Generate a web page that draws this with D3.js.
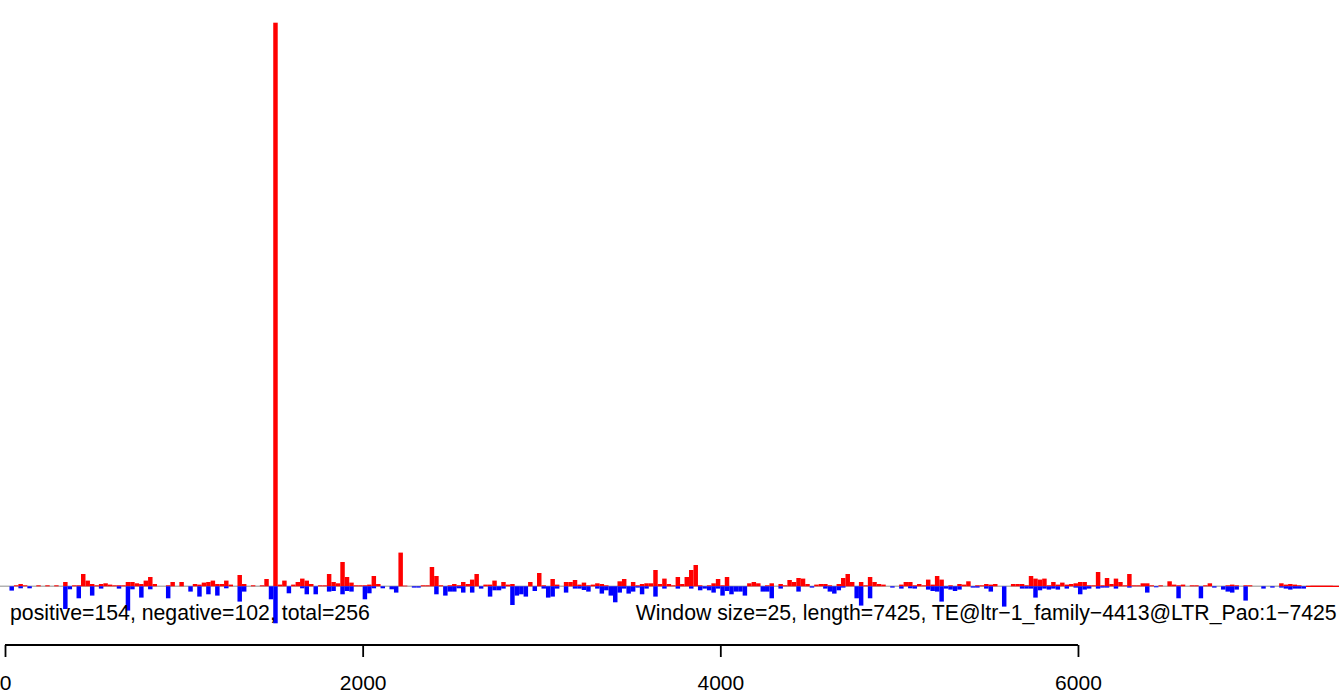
<!DOCTYPE html>
<html>
<head>
<meta charset="utf-8">
<script src="https://cdn.jsdelivr.net/npm/d3@7"></script>
<style>
  html, body { margin: 0; padding: 0; background: #fff; }
  svg { display: block; font-family: 'Liberation Sans', Arial, Helvetica, sans-serif; }
</style>
</head>
<body>
<svg id="chart"></svg>
<script>
// window size in bp and element length
const windowSize = 25;
const lengthBp = 7425;

// positive strand signal per 25bp window
const posValues = [
  0,0,1,2.3,1,0,0,1,0,1,
  0,1,0,4.3,0,1,1,12.3,5.7,2.3,
  1,2.3,3,1.7,1,1,1,4.3,4.3,3,
  2.3,5.7,9.3,2.3,0,0,1,4.3,0,4.3,
  0,0,2.3,1.7,3.7,4.3,5.7,2.3,2.3,5.7,
  1.7,0,11.3,2.3,0,1,0,1,7.3,0,
  563.6,1.7,5.7,0,1.7,4.3,7.7,5.7,2.3,0,
  1,1,12.3,4.3,3,24.3,9.3,3.7,1,1,
  1,1.7,10.3,2.3,0,0,0,0,33.7,0.7,
  0,0,0,1,1,19.3,10.3,1,0,1,
  2.3,1,4.3,2.3,6.7,12.3,0,1.7,1.7,5.7,
  0,4.3,1.7,2.3,0,0,0,4.3,0,13.3,
  1,0,7.3,1.7,0,4.3,4.3,6.3,1.7,3.7,
  1,1.7,3,2.3,1,0,0,5,7.3,0,
  4.3,1,2.3,3,3,16.3,2.3,7.7,2.3,1,
  9.3,2.3,9.3,16.3,21.3,1,0,1,3,7.3,
  1,9.3,0,0,0,0,3,4.3,3,0,
  1,3,0,2.3,1,6.3,4.3,8.3,7.7,2.3,
  0,1.7,2.3,2.3,1,0,2.3,8.3,12.3,4.3,
  0,4.3,1,9.3,4.3,2.3,1.7,0,0,0,
  1.7,4.3,4.3,1,2.3,1,6.7,1.7,10.3,6.7,
  0,1,0,2.3,1.7,5,0,1,1,2.3,
  1.7,2.3,0,0,0,2.3,2.3,2.3,1,10.3,
  7.7,6.7,7.7,1,4.3,1.7,3.7,1.7,2.3,3,
  4.3,4.3,1,1,14.3,1,8.3,2.3,7.7,4.3,
  1,12.3,1,1,3,3,1,0,1,0,
  5,1.7,1,1.7,0,1,1,0,1,3,
  0,0,0,1,1.7,1,0,1,1,0,
  0,0,0,0,0,3,1.7,2.3,1.7,1,
  0,0,0.5,0.5,0.5,0.5,0.5
];

// negative strand signal per 25bp window (drawn downwards)
const negValues = [
  0,4.3,0,2,0,2,0,0,0,0,
  0,0,0,22.7,3,0,12,0,0,9.3,
  0,2.3,0,0,0,2.3,0,24.3,3,0,
  11.3,0,3,0,0,0,12,0,0,0,
  0,5.3,0,10.3,0,8,0,9.3,0,2,
  0,0,15.3,5.3,0,0,0,0,0,13,
  37,0,0,7,0,0,2,8,0,8,
  0,0,5.3,4.7,0,8,4.7,5.3,0,0,
  13,7,2,0,2,0,3,6.3,0,0,
  0,1.3,1.3,0,0,0,8,0,9.3,5.3,
  5.3,2,6.3,0,6.3,0,2.3,0,10.3,4,
  4,2.3,0,18.7,9.3,8,10.3,0,4.7,0,
  2.3,11.3,10.3,2.3,0,6.3,0,2.3,2.3,3.7,
  5.3,0,2.3,7.3,4,9.3,16,6.3,2.3,7.3,
  5.3,1.3,8,2.3,0,10.3,0,2.3,0,0,
  2.3,0,0,2.3,0,4,2.3,4,6.3,2.3,
  9.3,4.7,8,5.3,5.3,9.3,0,0,0,5.3,
  5.3,12,0,2.3,0,0,0,5.3,0,0,
  1.3,0,0,2.3,5.3,7.3,4,1.3,0,0,
  12,19.3,0,12,0,0,0,0,1.3,0,
  2.3,0,2,2.3,0,0,3.3,4.7,5.3,15.3,
  2.3,3.3,4.7,3.3,0,0,1.3,1.3,0,2.3,
  5.3,0,0,20.3,0,0,0,2.3,2.3,2.3,
  11.3,4,2.3,3.3,2.3,3.3,0,2.3,0,1.3,
  8,3.3,2.3,0,2.3,1.3,1.3,0,2.3,0,
  0,1.3,0,0,0,6.3,0,1,0,0,
  0,0,12,0,0,0,0,12,0,0,
  1.3,0,3.3,5.3,6.3,3.3,0,14.3,0,0,
  0,2.3,0,1.3,0,1.3,2.3,3.3,2.3,2.3,
  2.3,0,0,0,0,0,0
];

const xTicks = [0, 2000, 4000, 6000];
const leftNote = 'positive=154, negative=102, total=256';
const rightNote = 'Window size=25, length=7425, TE@ltr\u22121_family\u22124413@LTR_Pao:1\u22127425';

function drawChart(width, height) {
  //SETUP
  const svg = d3.select('#chart').attr('width', width).attr('height', height);

  const data = posValues.map((p, i) => ({
    start: i * windowSize,
    end: (i + 1) * windowSize,
    pos: p,
    neg: negValues[i],
  }));

  //SCALES
  const xScale = d3.scaleLinear().domain([0, lengthBp]).range([5, 1332.8]);

  const yScale = d3
    .scaleLinear()
    .domain([0, d3.max(posValues)])
    .range([586.3, 22.7]);

  const y0 = yScale(0);

  //BASELINE
  svg
    .append('line')
    .attr('x1', 0)
    .attr('x2', width)
    .attr('y1', y0)
    .attr('y2', y0)
    .attr('stroke', '#b3b3b3')
    .attr('stroke-width', 1.6);

  // red line from the last windows out to the edge
  const lastNonEmpty = d3.max(data.filter((d) => d.neg > 0), (d) => d.end);
  svg
    .append('line')
    .attr('x1', xScale(lastNonEmpty))
    .attr('x2', width)
    .attr('y1', y0)
    .attr('y2', y0)
    .attr('stroke', '#ff0000')
    .attr('stroke-width', 1.2);

  //BARS
  svg
    .append('g')
    .selectAll('rect')
    .data(data.filter((d) => d.pos > 0))
    .enter()
    .append('rect')
    .attr('x', (d) => xScale(d.start))
    .attr('width', (d) => xScale(d.end) - xScale(d.start))
    .attr('y', (d) => yScale(d.pos))
    .attr('height', (d) => y0 - yScale(d.pos))
    .attr('fill', '#ff0000');

  svg
    .append('g')
    .selectAll('rect')
    .data(data.filter((d) => d.neg > 0))
    .enter()
    .append('rect')
    .attr('x', (d) => xScale(d.start))
    .attr('width', (d) => xScale(d.end) - xScale(d.start))
    .attr('y', y0)
    .attr('height', (d) => yScale(-d.neg) - y0)
    .attr('fill', '#0000ff');

  //NOTES
  svg
    .append('text')
    .attr('x', 10)
    .attr('y', 620)
    .style('font-size', '21.25px')
    .text(leftNote);

  svg
    .append('text')
    .attr('x', 1336.7)
    .attr('y', 620)
    .style('font-size', '21.25px')
    .style('text-anchor', 'end')
    .text(rightNote);

  //AXIS
  const xAxis = d3
    .axisBottom(xScale)
    .tickValues(xTicks)
    .tickSize(12)
    .tickPadding(18)
    .tickFormat(d3.format('d'));

  const axis = svg
    .append('g')
    .classed('x-axis', true)
    .attr('transform', 'translate(0,645)')
    .call(xAxis);

  axis.select('.domain').remove();
  axis
    .append('line')
    .attr('x1', xScale(xTicks[0]))
    .attr('x2', xScale(xTicks[xTicks.length - 1]))
    .attr('stroke', '#000')
    .attr('stroke-width', 1.8);
  axis.selectAll('.tick line').attr('stroke', '#000').attr('stroke-width', 1.8);
  axis
    .selectAll('.tick text')
    .style('font-size', '21px')
    .style('font-family', "'Liberation Sans', Arial, sans-serif")
    .attr('fill', '#000');
}

drawChart(1339, 690);
</script>
</body>
</html>
